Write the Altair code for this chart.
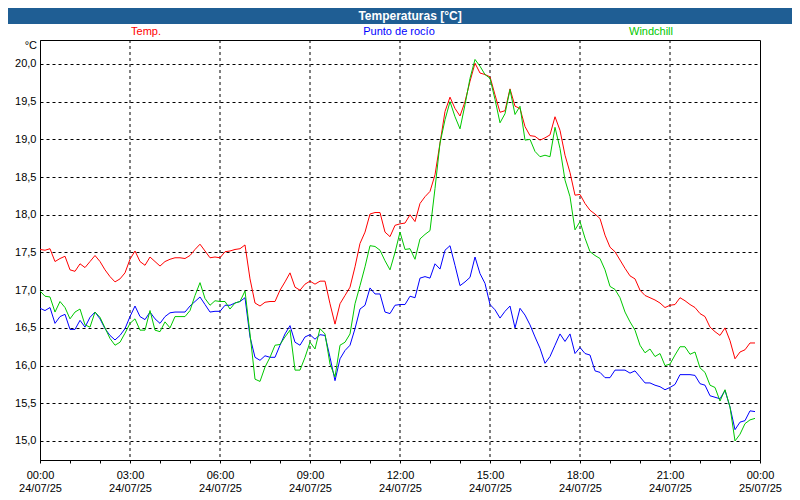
import altair as alt
import pandas as pd

# sample times: every 10 minutes from 00:00 (hours)
times_h = [i / 6 for i in range(144)]

temp = [17.54, 17.53, 17.55, 17.38, 17.42, 17.45, 17.27, 17.25, 17.35, 17.30,
        17.38, 17.46, 17.38, 17.27, 17.18, 17.11, 17.15, 17.23, 17.41, 17.52,
        17.38, 17.33, 17.44, 17.38, 17.32, 17.38, 17.41, 17.43, 17.43, 17.42,
        17.46, 17.54, 17.61, 17.52, 17.43, 17.44, 17.43, 17.51, 17.52, 17.54,
        17.55, 17.60, 17.15, 16.83, 16.79, 16.84, 16.85, 16.85, 17.00, 17.11,
        17.23, 17.04, 17.00, 17.08, 17.12, 17.08, 17.12, 17.12, 16.82, 16.55,
        16.82, 16.93, 17.04, 17.31, 17.62, 17.77, 18.01, 18.03, 18.03, 17.77,
        17.71, 17.86, 17.88, 17.89, 18.00, 17.91, 18.15, 18.24, 18.31, 18.53,
        18.95, 19.37, 19.56, 19.41, 19.31, 19.50, 19.77, 20.01, 19.88, 19.86,
        19.83, 19.59, 19.36, 19.38, 19.67, 19.44, 19.41, 19.17, 19.05, 19.04,
        18.99, 19.02, 19.06, 19.30, 19.12, 18.79, 18.56, 18.26, 18.27, 18.15,
        18.06, 18.01, 17.95, 17.73, 17.57, 17.51, 17.40, 17.29, 17.19, 17.15,
        17.00, 16.93, 16.90, 16.87, 16.83, 16.77, 16.80, 16.81, 16.90, 16.86,
        16.81, 16.77, 16.69, 16.65, 16.51, 16.45, 16.40, 16.50, 16.33, 16.09,
        16.18, 16.21, 16.30, 16.30]

dew = [16.76, 16.73, 16.77, 16.56, 16.65, 16.68, 16.48, 16.48, 16.60, 16.51,
       16.64, 16.71, 16.62, 16.49, 16.40, 16.34, 16.40, 16.49, 16.65, 16.79,
       16.65, 16.61, 16.71, 16.62, 16.56, 16.65, 16.70, 16.71, 16.71, 16.71,
       16.79, 16.85, 16.91, 16.81, 16.71, 16.72, 16.72, 16.80, 16.80, 16.83,
       16.85, 16.90, 16.38, 16.11, 16.07, 16.13, 16.11, 16.11, 16.27, 16.42,
       16.53, 16.31, 16.27, 16.38, 16.41, 16.35, 16.41, 16.40, 16.11, 15.80,
       16.09, 16.20, 16.27, 16.49, 16.75, 16.80, 17.03, 16.95, 16.95, 16.71,
       16.69, 16.80, 16.81, 16.81, 16.92, 16.90, 17.16, 17.18, 17.16, 17.35,
       17.28, 17.53, 17.59, 17.33, 17.06, 17.11, 17.17, 17.44, 17.22, 17.09,
       16.81, 16.74, 16.63, 16.72, 16.79, 16.50, 16.76, 16.67, 16.54, 16.38,
       16.23, 16.03, 16.12, 16.27, 16.42, 16.32, 16.42, 16.16, 16.24, 16.16,
       16.14, 15.93, 15.91, 15.84, 15.84, 15.94, 15.94, 15.94, 15.90, 15.93,
       15.85, 15.77, 15.77, 15.74, 15.72, 15.68, 15.71, 15.75, 15.88, 15.88,
       15.88, 15.87, 15.76, 15.74, 15.60, 15.58, 15.56, 15.67, 15.45, 15.15,
       15.25, 15.27, 15.40, 15.39]

wind = [16.99, 16.92, 16.91, 16.71, 16.85, 16.77, 16.62, 16.71, 16.75, 16.54,
        16.51, 16.71, 16.64, 16.50, 16.36, 16.27, 16.31, 16.43, 16.56, 16.62,
        16.47, 16.47, 16.73, 16.47, 16.45, 16.58, 16.50, 16.65, 16.65, 16.65,
        16.73, 16.93, 17.10, 16.89, 16.80, 16.86, 16.85, 16.85, 16.75, 16.83,
        16.85, 16.99, 16.42, 15.82, 15.79, 15.98, 16.11, 16.27, 16.28, 16.38,
        16.47, 15.94, 15.94, 16.11, 16.31, 16.22, 16.49, 16.42, 16.02, 15.85,
        16.27, 16.31, 16.42, 16.82, 17.06, 17.31, 17.59, 17.58, 17.53, 17.39,
        17.27, 17.50, 17.77, 17.54, 17.55, 17.41, 17.68, 17.74, 17.79, 18.35,
        18.95, 19.26, 19.50, 19.30, 19.14, 19.46, 19.81, 20.06, 19.97, 19.86,
        19.81, 19.53, 19.22, 19.34, 19.66, 19.33, 19.44, 18.99, 19.00, 18.84,
        18.77, 18.79, 18.77, 19.16, 18.88, 18.46, 18.24, 17.80, 17.91, 17.69,
        17.51, 17.46, 17.42, 17.27, 17.05, 17.01, 16.90, 16.71, 16.58, 16.47,
        16.27, 16.17, 16.22, 16.12, 16.16, 16.00, 16.02, 16.14, 16.25, 16.25,
        16.15, 16.18, 15.97, 15.91, 15.74, 15.71, 15.53, 15.68, 15.45, 15.00,
        15.09, 15.23, 15.28, 15.30]

series_names = ["Temp.", "Punto de rocío", "Windchill"]
series_colors = ["#ff0000", "#0000ff", "#00c800"]
grid_hours = [3, 6, 9, 12, 15, 18, 21]
x_ticks = list(range(25))
y_ticks = [15.0, 15.5, 16.0, 16.5, 17.0, 17.5, 18.0, 18.5, 19.0, 19.5, 20.0]

rows = []
for k, (name, vals) in enumerate(zip(series_names, [temp, dew, wind])):
    for t, v in zip(times_h, vals):
        rows.append({"t": t, "v": v, "s": name, "o": k})
df = pd.DataFrame(rows)

FONT = "Liberation Sans"
x_scale = alt.Scale(domain=[0, 24], nice=False, zero=False)
y_scale = alt.Scale(domain=[14.748, 20.318], nice=False, zero=False)

x_axis = alt.Axis(
    values=x_ticks, grid=False, title=None,
    labelExpr="datum.value % 3 == 0 ? [(datum.value % 24 < 10 ? '0' : '') + (datum.value % 24) + ':00', datum.value == 24 ? '25/07/25' : '24/07/25'] : ''",
    tickSize=3, tickColor="black", domainColor="black", labelColor="black",
    labelFontSize=11, labelFont=FONT, labelPadding=6, labelLineHeight=13,
    labelBaseline="top", labelAlign="center", labelOverlap=False, labelFlush=False,
)
y_axis = alt.Axis(
    values=y_ticks, title=None, grid=True, gridDash=[3, 3], gridColor="black",
    gridOpacity=1, gridWidth=1, ticks=False, domainColor="black",
    labelColor="black", labelFontSize=11, labelFont=FONT, labelPadding=4,
    labelExpr="replace(format(datum.value, '.1f'), '.', ',')",
)

vgrid = alt.Chart(pd.DataFrame({"t": grid_hours})).mark_rule(
    color="black", strokeDash=[3, 3], strokeWidth=1
).encode(x=alt.X("t:Q", scale=x_scale, axis=x_axis))

lines = alt.Chart(df).mark_line(strokeWidth=1, interpolate="linear").encode(
    x=alt.X("t:Q", scale=x_scale, axis=x_axis),
    y=alt.Y("v:Q", scale=y_scale, axis=y_axis),
    color=alt.Color("s:N", scale=alt.Scale(domain=series_names, range=series_colors), legend=None),
    order=alt.Order("o:Q"),
    detail="s:N",
)

one = pd.DataFrame({"a": [0]})
title_bar = alt.Chart(one).mark_rect(color="#1f5e94").encode(
    x=alt.value(-32), x2=alt.value(752), y=alt.value(-32), y2=alt.value(-16)
)
title_txt = alt.Chart(one).mark_text(
    text="Temperaturas [°C]", font=FONT, fontSize=12, fontWeight="bold",
    color="white", align="center", baseline="middle"
).encode(x=alt.value(370), y=alt.value(-24))

legend_x = [106, 359, 611]
legend_layers = []
for name, col, lx in zip(series_names, series_colors, legend_x):
    legend_layers.append(
        alt.Chart(one).mark_text(
            text=name, font=FONT, fontSize=11, color=col, align="center", baseline="middle"
        ).encode(x=alt.value(lx), y=alt.value(-8))
    )

unit_txt = alt.Chart(one).mark_text(
    text="°C", font=FONT, fontSize=11, color="black", align="right", baseline="middle"
).encode(x=alt.value(-3), y=alt.value(6))

chart = alt.layer(
    vgrid, lines, title_bar, title_txt, unit_txt, *legend_layers
).properties(
    width=720, height=420,
    padding={"left": 32, "top": 32, "right": 32, "bottom": 32},
    autosize=alt.AutoSizeParams(type="none"),
    background="white",
).configure_view(stroke="black", strokeWidth=1)

chart.save("out.html", embed_options={"renderer": "svg", "actions": False})
